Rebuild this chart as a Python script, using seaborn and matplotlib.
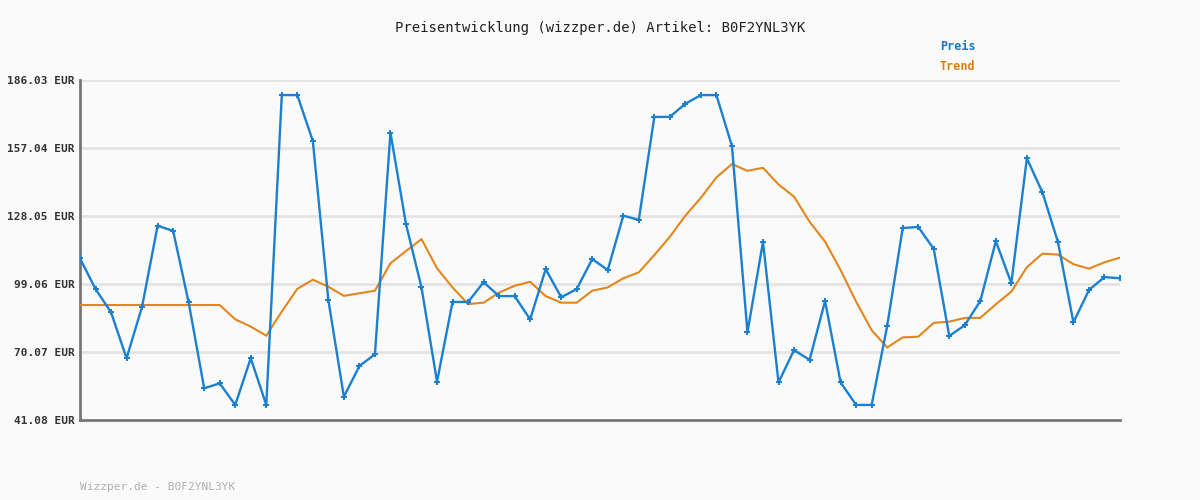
import matplotlib
matplotlib.use("Agg")
import matplotlib.pyplot as plt
import seaborn as sns
import numpy as np
import pandas as pd

# Preis (blue) and Trend (orange), one value per observation
preis = [110.0, 96.9, 87.0, 67.4, 89.4, 123.9, 121.7, 91.2, 54.6, 56.7,
         47.5, 67.4, 47.5, 179.6, 179.6, 160.0, 92.2, 51.0, 64.1, 69.1,
         163.6, 124.6, 97.6, 57.4, 91.4, 91.4, 99.8, 93.9, 93.9, 84.0,
         105.4, 93.4, 96.9, 109.7, 105.0, 128.2, 126.4, 170.3, 170.3, 175.9,
         179.6, 179.6, 157.9, 78.5, 117.0, 57.1, 70.9, 66.7, 91.8, 57.1,
         47.5, 47.5, 81.1, 122.9, 123.4, 114.0, 76.9, 81.5, 91.8, 117.3,
         99.4, 152.6, 138.2, 117.0, 82.7, 96.5, 102.0, 101.5]
trend = [90.1, 90.1, 90.1, 90.1, 90.1, 90.1, 90.1, 90.1, 90.1, 90.1,
         84.0, 80.9, 77.0, 87.3, 97.0, 100.9, 97.9, 94.0, 95.1, 96.2,
         107.9, 113.1, 118.2, 105.8, 97.6, 90.5, 91.1, 95.4, 98.3, 100.0,
         93.9, 91.1, 91.1, 96.2, 97.6, 101.5, 104.0, 111.4, 119.2, 128.2,
         135.8, 144.5, 150.2, 147.3, 148.6, 141.5, 136.3, 125.6, 117.1, 105.0,
         91.5, 79.4, 72.0, 76.3, 76.6, 82.5, 83.0, 84.6, 84.6, 90.4,
         95.8, 106.2, 112.0, 111.6, 107.5, 105.6, 108.3, 110.3]
y_ticks = [41.08, 70.07, 99.06, 128.05, 157.04, 186.03]
tick_labels = ["%.2f EUR" % v for v in y_ticks]

blue = "#1b80cf"
orange = "#e3861c"
bg = "#fafafa"

df = pd.DataFrame({"idx": np.arange(len(preis)), "Preis": preis, "Trend": trend})

sns.set_style("white")
plt.rcParams["font.family"] = ["DejaVu Sans Mono", "DejaVu Sans"]

fig = plt.figure(figsize=(12, 5), dpi=100, facecolor=bg)
ax = fig.add_axes([80 / 1200, 80 / 500, 1040 / 1200, 340 / 500])
ax.set_facecolor(bg)

sns.lineplot(data=df, x="idx", y="Trend", color=orange, linewidth=1.5, ax=ax, zorder=3)
sns.lineplot(data=df, x="idx", y="Preis", color=blue, linewidth=1.7, marker="P",
             markersize=4, markeredgewidth=0, ax=ax, zorder=4)

ax.set_xlim(0, len(preis) - 1)
ax.set_ylim(y_ticks[0], y_ticks[-1])
ax.set_yticks(y_ticks)
ax.set_yticklabels(tick_labels, fontsize=8, fontweight="bold", color="#333333")
ax.set_xticks([])
ax.set_xlabel("")
ax.set_ylabel("")
ax.yaxis.grid(True, color="#e4e4e4", linewidth=2)
ax.set_axisbelow(True)
ax.tick_params(axis="y", length=3, width=1.5, color="#777777", pad=1)

for side in ["top", "right"]:
    ax.spines[side].set_visible(False)
for side in ["left", "bottom"]:
    ax.spines[side].set_color("#777777")
    ax.spines[side].set_linewidth(2)

fig.text(0.5, 1 - 28 / 500, "Preisentwicklung (wizzper.de) Artikel: B0F2YNL3YK",
         ha="center", va="center", fontsize=10, color="#222222")
fig.text(940 / 1200, 1 - 47 / 500, "Preis", ha="left", va="center",
         fontsize=8.5, fontweight="bold", color="#1a78c2")
fig.text(940 / 1200, 1 - 67 / 500, "Trend", ha="left", va="center",
         fontsize=8.5, fontweight="bold", color="#d9800f")
fig.text(80 / 1200, 1 - 487 / 500, "Wizzper.de - B0F2YNL3YK", ha="left", va="center",
         fontsize=8, color="#b0b0b0")

fig.savefig("out.png", dpi=100, facecolor=bg)
